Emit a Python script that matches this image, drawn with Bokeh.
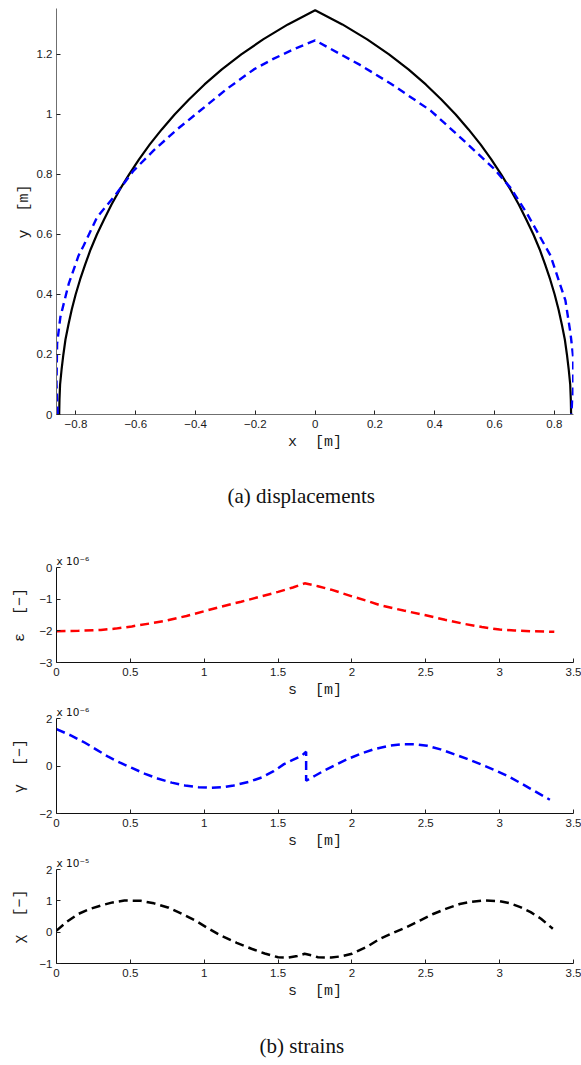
from bokeh.plotting import figure
from bokeh.layouts import column
from bokeh.models import FixedTicker, Range1d, Title
from bokeh.embed import file_html
from bokeh.resources import INLINE

# ---------------- data ----------------
# (a) displacements: undeformed arch (black) and deformed arch (blue)
x_undef = [-0.856, -0.855, -0.853, -0.848, -0.842, -0.835, -0.825, -0.814, -0.801, -0.786,
           -0.769, -0.751, -0.730, -0.706, -0.681, -0.653, -0.622, -0.589, -0.553, -0.513,
           -0.470, -0.422, -0.370, -0.312, -0.247, -0.174, -0.091, 0.0,
           0.091, 0.174, 0.247, 0.312, 0.370, 0.422, 0.470, 0.513, 0.553, 0.589,
           0.622, 0.653, 0.681, 0.706, 0.730, 0.751, 0.769, 0.786, 0.801, 0.814,
           0.825, 0.835, 0.842, 0.848, 0.853, 0.855, 0.856]
y_undef = [0.0, 0.05, 0.1, 0.15, 0.2, 0.25, 0.3, 0.35, 0.4, 0.45,
           0.5, 0.55, 0.6, 0.65, 0.7, 0.75, 0.8, 0.85, 0.9, 0.95,
           1.0, 1.05, 1.1, 1.15, 1.2, 1.25, 1.3, 1.347,
           1.3, 1.25, 1.2, 1.15, 1.1, 1.05, 1.0, 0.95, 0.9, 0.85,
           0.8, 0.75, 0.7, 0.65, 0.6, 0.55, 0.5, 0.45, 0.4, 0.35,
           0.3, 0.25, 0.2, 0.15, 0.1, 0.05, 0.0]
x_def = [-0.861, -0.865, -0.863, -0.852, -0.824, -0.791, -0.774, -0.729, -0.674, -0.607,
         -0.540, -0.462, -0.384, -0.294, -0.205, -0.140, -0.072, 0.0,
         0.051, 0.150, 0.252, 0.386, 0.486, 0.597, 0.653, 0.709, 0.765, 0.787,
         0.837, 0.854, 0.863, 0.863, 0.856]
y_def = [0.0, 0.103, 0.236, 0.325, 0.436, 0.53, 0.563, 0.658, 0.724, 0.813,
         0.88, 0.950, 1.013, 1.086, 1.150, 1.185, 1.217, 1.247,
         1.219, 1.165, 1.103, 1.013, 0.923, 0.82, 0.756, 0.669, 0.569, 0.53,
         0.38, 0.27, 0.19, 0.08, 0.0]

# (b) strains along arc length s [m]
s_eps = [0.0, 0.15, 0.3, 0.4, 0.51, 0.63, 0.75, 0.88, 1.0, 1.12, 1.25, 1.38, 1.5, 1.6,
         1.68, 1.77, 1.86, 2.0, 2.1, 2.19, 2.35, 2.5, 2.63, 2.76, 2.88, 3.0, 3.1, 3.21, 3.37]
eps_e6 = [-2.01, -2.0, -1.97, -1.93, -1.86, -1.77, -1.67, -1.53, -1.38, -1.23, -1.08,
          -0.92, -0.77, -0.63, -0.5, -0.59, -0.70, -0.91, -1.05, -1.19, -1.36, -1.51,
          -1.65, -1.78, -1.88, -1.96, -1.99, -2.01, -2.03]

s_gam = [0.0, 0.1, 0.19, 0.27, 0.35, 0.43, 0.51, 0.6, 0.69, 0.78, 0.87, 0.96, 1.05, 1.13,
         1.2, 1.3, 1.39, 1.47, 1.54, 1.6, 1.66, 1.69, 1.69, 1.75, 1.81, 1.89, 1.97, 2.06,
         2.15, 2.25, 2.34, 2.43, 2.51, 2.6, 2.69, 2.78, 2.87, 2.96, 3.05, 3.13, 3.21, 3.34]
gam_e6 = [1.55, 1.28, 0.99, 0.69, 0.39, 0.14, -0.08, -0.33, -0.54, -0.70, -0.82, -0.89,
          -0.92, -0.89, -0.82, -0.67, -0.48, -0.22, 0.08, 0.26, 0.43, 0.6, -0.62, -0.41,
          -0.2, 0.05, 0.29, 0.52, 0.71, 0.85, 0.92, 0.91, 0.85, 0.70, 0.5, 0.30, 0.08,
          -0.16, -0.41, -0.68, -0.96, -1.42]

s_chi = [0.0, 0.07, 0.147, 0.22, 0.3, 0.38, 0.46, 0.57, 0.66, 0.76, 0.85, 0.94, 1.02, 1.11,
         1.22, 1.32, 1.41, 1.5, 1.57, 1.63, 1.68, 1.73, 1.77, 1.86, 1.93, 2.0, 2.1, 2.19,
         2.28, 2.37, 2.46, 2.55, 2.64, 2.73, 2.81, 2.89, 3.0, 3.07, 3.14, 3.21, 3.28, 3.36]
chi_e5 = [0.05, 0.33, 0.58, 0.73, 0.85, 0.95, 1.01, 1.0, 0.92, 0.78, 0.58, 0.37, 0.14,
          -0.1, -0.34, -0.53, -0.68, -0.8, -0.81, -0.76, -0.69, -0.74, -0.80, -0.81, -0.77,
          -0.69, -0.47, -0.21, -0.02, 0.16, 0.37, 0.58, 0.75, 0.9, 0.97, 1.01, 0.99, 0.92,
          0.8, 0.64, 0.43, 0.11]

xt_top = [-0.8, -0.6, -0.4, -0.2, 0.0, 0.2, 0.4, 0.6, 0.8]
yt_top = [0.0, 0.2, 0.4, 0.6, 0.8, 1.0, 1.2]
st_ticks = [0.0, 0.5, 1.0, 1.5, 2.0, 2.5, 3.0, 3.5]
eps_ticks = [-3.0, -2.0, -1.0, 0.0]
gam_ticks = [-2.0, 0.0, 2.0]
chi_ticks = [-1.0, 0.0, 1.0, 2.0]

caption_a = "(a) displacements"
caption_b = "(b) strains"


def lab(v):
    return ("%g" % v).replace("-", "\u2212")


W = 581
SP = "\u00a0\u00a0"


def style(p, xticks, yticks, line_color):
    p.outline_line_color = None
    p.background_fill_color = "white"
    p.border_fill_color = "white"
    p.xgrid.visible = False
    p.ygrid.visible = False
    p.xaxis.ticker = FixedTicker(ticks=xticks)
    p.yaxis.ticker = FixedTicker(ticks=yticks)
    p.xaxis.major_label_overrides = {t: lab(t) for t in xticks}
    p.yaxis.major_label_overrides = {t: lab(t) for t in yticks}
    for ax in (p.xaxis[0], p.yaxis[0]):
        ax.axis_line_color = line_color
        ax.axis_line_width = 1
        ax.major_tick_line_color = "#222222"
        ax.major_tick_in = 4
        ax.major_tick_out = 0
        ax.minor_tick_line_color = None
        ax.major_label_text_font = "Liberation Sans"
        ax.major_label_text_font_size = "11.5px"
        ax.major_label_text_color = "#1a1a1a"
        ax.axis_label_text_font = "Liberation Mono"
        ax.axis_label_text_font_style = "normal"
        ax.axis_label_text_font_size = "15px"
        ax.axis_label_text_color = "#1a1a1a"
    p.xaxis.major_label_standoff = 5
    p.xaxis.axis_label_standoff = 3
    p.yaxis.major_label_standoff = 4
    p.yaxis.axis_label_standoff = 7


def make_title(text, size, font, align, offset, standoff):
    t = Title(text=text, align=align, offset=offset, text_font=font,
              text_font_size=size, text_font_style="normal", text_color="#111111")
    if "standoff" in t.properties():
        t.standoff = standoff
    return t


# ---------- (a) displacements ----------
p1 = figure(width=W, height=540, x_range=Range1d(-0.865, 0.864), y_range=Range1d(0, 1.353),
            min_border_left=56, min_border_right=8, min_border_top=8, min_border_bottom=126,
            output_backend="svg", toolbar_location=None)
style(p1, xt_top, yt_top, "#6f6f6f")
p1.yaxis.axis_label_standoff = 1
p1.xaxis.axis_label = "x" + SP + "[m]"
p1.yaxis.axis_label = "y" + SP + "[m]"
p1.line(x_undef, y_undef, line_color="black", line_width=2.2)
p1.line(x_def, y_def, line_color="#0000ff", line_width=2.4, line_dash="8 5")
p1.add_layout(make_title(caption_a, "21px", "Liberation Serif", "left", 171, 57), "below")


def strain_fig(height, top, bottom, s, v, color, yr, yticks, ylabel, mult):
    p = figure(width=W, height=height, x_range=Range1d(0, 3.5), y_range=Range1d(*yr),
               min_border_left=55, min_border_right=8, min_border_top=top,
               min_border_bottom=bottom, output_backend="svg", toolbar_location=None)
    style(p, st_ticks, yticks, "#111111")
    p.xaxis.axis_label = "s" + SP + "[m]"
    p.yaxis.axis_label = ylabel
    p.line(s, v, line_color=color, line_width=2.5, line_dash="9 5")
    p.add_layout(make_title(mult, "10.5px", "DejaVu Sans", "left", 0, 1), "above")
    return p


p2 = strain_fig(162, 27, 40, s_eps, eps_e6, "#ff0000", (-3, 0), eps_ticks,
                "\u03b5" + SP + "[\u2212]", "x 10\u207b\u2076")
p3 = strain_fig(151, 16, 40, s_gam, gam_e6, "#0000ff", (-2, 2), gam_ticks,
                "\u03b3" + SP + "[\u2212]", "x 10\u207b\u2076")
p4 = strain_fig(157, 16, 47, s_chi, chi_e5, "black", (-1, 2), chi_ticks,
                "\u03c7" + SP + "[\u2212]", "x 10\u207b\u2075")

# caption strip for (b); its frame is aligned with the plots above (left edge ~56 px)
p5 = figure(width=W, height=53, x_range=Range1d(0, 1), y_range=Range1d(0, 1),
            x_axis_location=None, y_axis_location=None,
            min_border_left=56, min_border_right=8, min_border_top=52, min_border_bottom=0,
            output_backend="svg", toolbar_location=None)
p5.grid.visible = False
p5.outline_line_color = None
p5.border_fill_color = "white"
p5.add_layout(make_title(caption_b, "21px", "Liberation Serif", "left", 203, 10), "above")

layout = column(p1, p2, p3, p4, p5, spacing=0)
open("out.html", "w").write(file_html(layout, INLINE))
